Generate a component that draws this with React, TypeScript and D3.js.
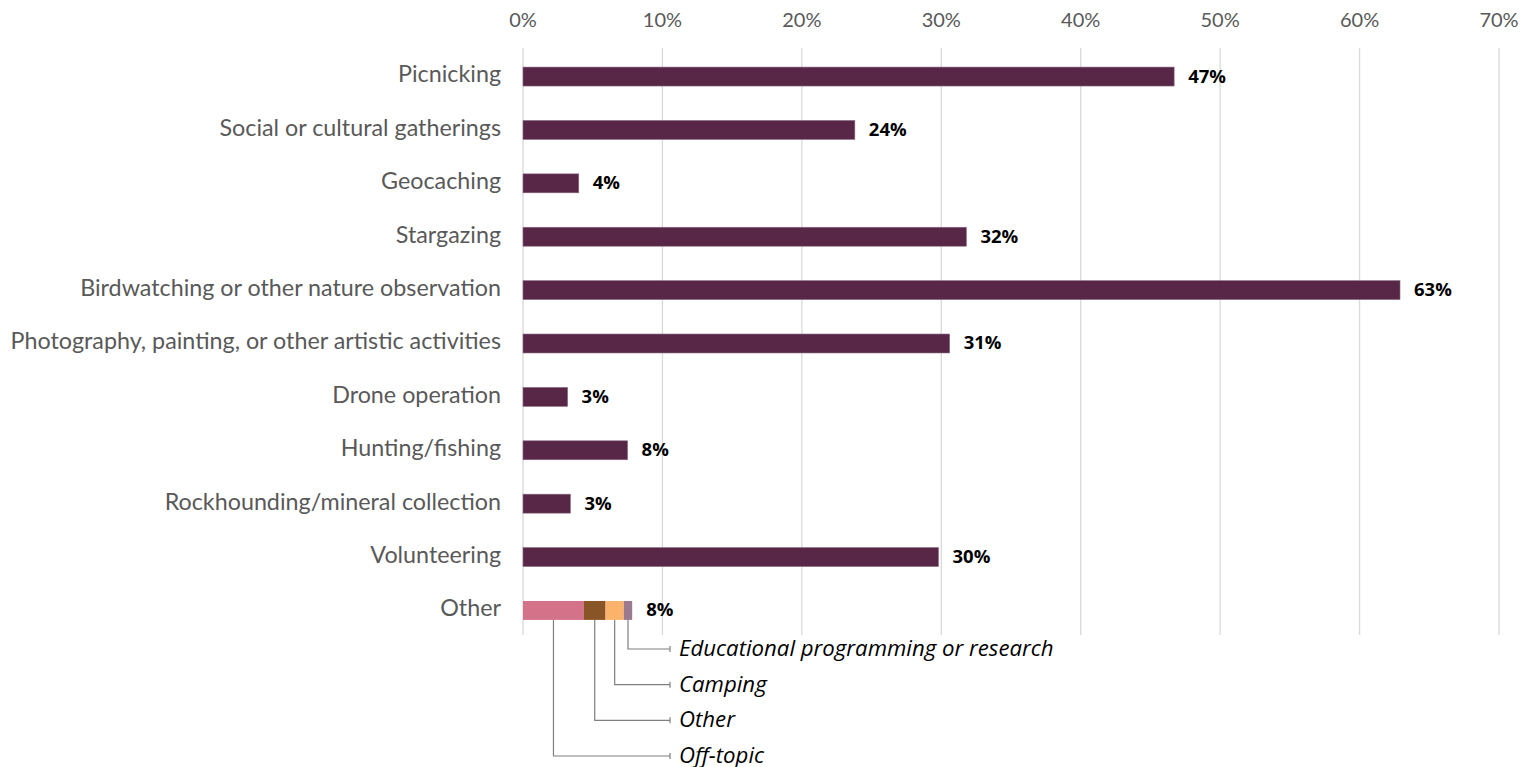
import React from 'react';
import * as d3 from 'd3';

const categories = [
    "Picnicking",
    "Social or cultural gatherings",
    "Geocaching",
    "Stargazing",
    "Birdwatching or other nature observation",
    "Photography, painting, or other artistic activities",
    "Drone operation",
    "Hunting/fishing",
    "Rockhounding/mineral collection",
    "Volunteering",
    "Other"
];

const values = [46.7, 23.8, 4.0, 31.8, 62.9, 30.6, 3.2, 7.5, 3.4, 29.8];

const otherParts = ["Off-topic", "Other", "Camping", "Educational programming or research"];
const otherValues = [4.37, 1.55, 1.31, 0.6];
const otherColors = ["#d4728a", "#8a5526", "#fbb36c", "#9b7a8f"];

const xTicks = [0, 10, 20, 30, 40, 50, 60, 70];

const BAR_COLOR = "#582646";
const GRID = "#d9d9d9";
const LABEL = "#595959";

const App: React.FC = () => {
    const width = 1537;
    const height = 767;
    const margin = { top: 48, left: 523, right: 38 };
    const plotBottom = 635;

    const x = d3.scaleLinear().domain([0, 70]).range([margin.left, width - margin.right]);
    const y = d3.scaleBand().domain(categories).range([margin.top + 2, plotBottom + 2]).paddingInner(0.645).paddingOuter(0.32);

    const otherTotal = d3.sum(otherValues);
    const stacked = otherValues.map((v, i) => {
        const start = d3.sum(otherValues.slice(0, i));
        return { name: otherParts[i], x0: start, x1: start + v, color: otherColors[i] };
    });

    // callout rows, top row is the last segment
    const callY = d3.scalePoint<string>().domain([...otherParts].reverse()).range([649, 756]);
    const otherY = y("Other") || 0;
    const bw = y.bandwidth();
    const capX = 670;

    return (
        <div style={{ position: 'absolute', left: 0, top: 0 }}>
            <svg width={width} height={height} style={{ display: 'block' }}>
                <rect width={width} height={height} fill="#fff" />
                {xTicks.map(t => (
                    <g key={t}>
                        <line x1={x(t)} x2={x(t)} y1={margin.top} y2={plotBottom} stroke={GRID} strokeWidth={1.3} />
                        <text x={x(t)} y={22} textAnchor="middle" dominantBaseline="middle"
                            fontFamily="Lato, sans-serif" fontSize="20px" fill={LABEL}>{t}%</text>
                    </g>
                ))}

                {categories.map(c => (
                    <text key={c} x={501} y={(y(c) || 0) + bw / 2} textAnchor="end" dominantBaseline="middle"
                        fontFamily="Lato, sans-serif" fontSize="23.3px" fill={LABEL}>{c}</text>
                ))}

                {values.map((v, i) => {
                    const c = categories[i];
                    const yy = y(c) || 0;
                    return (
                        <g key={c}>
                            <rect x={x(0)} y={yy} width={x(v) - x(0)} height={bw} fill={BAR_COLOR}
                                stroke="#8a6a80" strokeWidth={0.6} />
                            <text x={x(v) + 14} y={yy + bw / 2 + 1} dominantBaseline="middle"
                                fontFamily="'Open Sans', sans-serif" fontWeight="bold" fontSize="18.5px" fill="#000">
                                {Math.round(v)}%
                            </text>
                        </g>
                    );
                })}

                {stacked.map(s => (
                    <rect key={s.name} x={x(s.x0)} y={otherY} width={x(s.x1) - x(s.x0)} height={bw} fill={s.color} />
                ))}
                <text x={x(otherTotal) + 14} y={otherY + bw / 2 + 1} dominantBaseline="middle"
                    fontFamily="'Open Sans', sans-serif" fontWeight="bold" fontSize="18.5px" fill="#000">
                    {Math.round(otherTotal)}%
                </text>

                {stacked.map(s => {
                    const cx = (x(s.x0) + x(s.x1)) / 2;
                    const ly = callY(s.name) || 0;
                    return (
                        <g key={s.name + "-call"}>
                            <path d={`M${cx},${otherY + bw} V${ly} H${capX}`} fill="none" stroke="#7f7f7f" strokeWidth={1.2} />
                            <line x1={capX} x2={capX} y1={ly - 3} y2={ly + 3} stroke="#7f7f7f" strokeWidth={1.2} />
                            <text x={679} y={ly + 1} dominantBaseline="middle" fontFamily="'Open Sans', sans-serif"
                                fontStyle="italic" fontSize="22.2px" fill="#000">{s.name}</text>
                        </g>
                    );
                })}
            </svg>
        </div>
    );
};

export default App;
